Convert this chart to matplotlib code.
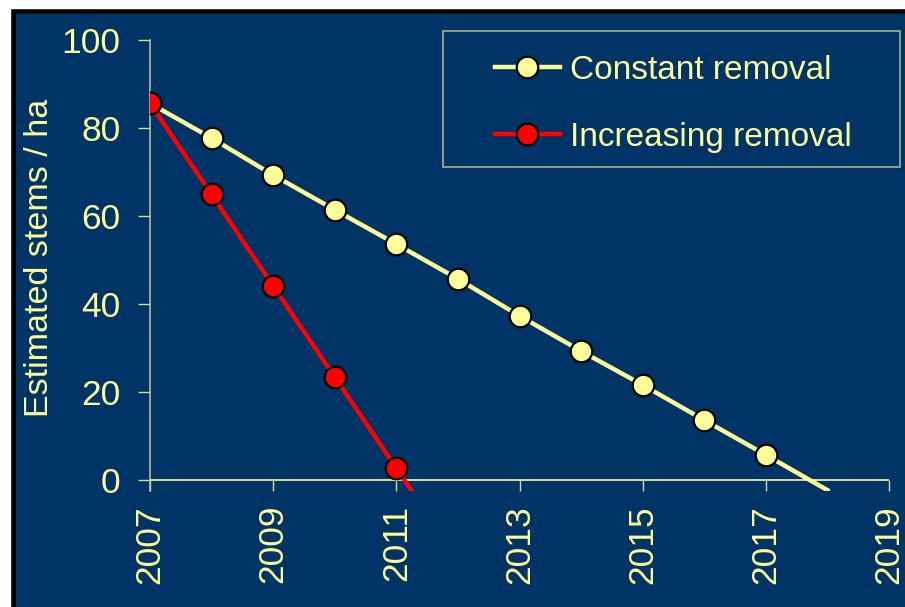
import matplotlib
matplotlib.use("Agg")
import matplotlib.pyplot as plt
from matplotlib.patches import Rectangle

plt.rcParams['font.family'] = ['Liberation Sans', 'DejaVu Sans']

# ---- data ----
years_constant = [2007, 2008, 2009, 2010, 2011, 2012, 2013, 2014, 2015, 2016, 2017, 2018]
constant_removal = [85.6, 77.7, 69.3, 61.4, 53.6, 45.7, 37.3, 29.3, 21.6, 13.6, 5.7, -2.3]
years_increasing = [2007, 2008, 2009, 2010, 2011, 2012]
increasing_removal = [85.6, 64.9, 44.1, 23.4, 2.7, -18.0]
x_ticks = [2007, 2009, 2011, 2013, 2015, 2017, 2019]
y_ticks = [0, 20, 40, 60, 80, 100]
series_labels = ["Constant removal", "Increasing removal"]
y_label = "Estimated stems / ha"

NAVY = '#003366'
TXT = '#FFFF99'
YEL = '#FFFF99'
RED = '#FF0000'

W, H = 905, 607
fig = plt.figure(figsize=(W / 100, H / 100), dpi=100)
fig.patch.set_facecolor('white')

# slide background with black frame
bg = Rectangle((12.5 / W, -0.1), 1.2, (H - 11) / H + 0.1, transform=fig.transFigure,
               facecolor=NAVY, edgecolor='black', linewidth=3.3, zorder=-10)
fig.patches.append(bg)

ax = fig.add_axes([150 / W, (H - 491) / H, (889 - 150) / W, (491 - 40) / H])
ax.set_facecolor('none')

ax.set_xlim(2007, 2019)
ax.set_ylim(-2.5, 100)

ax.axhline(0, color=YEL, lw=1.2, zorder=1)

mk_c = [i for i, v in enumerate(constant_removal) if v >= 0]
mk_i = [i for i, v in enumerate(increasing_removal) if v >= 0]
ax.plot(years_constant, constant_removal, color=YEL, lw=3.2, marker='o', markersize=15.5,
        markerfacecolor=YEL, markeredgecolor='black', markeredgewidth=1.6,
        markevery=mk_c, label=series_labels[0], zorder=3)
ax.plot(years_increasing, increasing_removal, color=RED, lw=3.2, marker='o', markersize=15.5,
        markerfacecolor=RED, markeredgecolor='black', markeredgewidth=1.6,
        markevery=mk_i, label=series_labels[1], zorder=4)

for s in ['top', 'right', 'bottom']:
    ax.spines[s].set_visible(False)
ax.spines['left'].set_color('#C8C8A0')
ax.spines['left'].set_linewidth(1.1)

ax.set_xticks(x_ticks)
ax.set_xticklabels([str(t) for t in x_ticks])
ax.set_yticks(y_ticks)
ax.set_yticklabels([str(t) for t in y_ticks])
ax.tick_params(axis='x', direction='in', length=7.9, width=1.0, color='#D8D8A0',
               pad=10, labelsize=25.5, labelcolor=TXT, labelrotation=90)
ax.tick_params(axis='y', direction='out', length=8.6, width=1.0, color='#D8D8A0',
               pad=12.5, labelsize=25.5, labelcolor=TXT)

ax.set_ylabel(y_label, fontsize=24.5, color=TXT)
ax.yaxis.set_label_coords(-0.150, 0.518)
ax.yaxis.label.set_va('center')

# legend frame
fig.patches.append(Rectangle((443 / W, (H - 167) / H), (900 - 443) / W, (167 - 31) / H,
                             transform=fig.transFigure, fill=False,
                             edgecolor='#B8B890', linewidth=1.1, zorder=5))
ax.legend(loc='center', bbox_to_anchor=(673 / W, (H - 104) / H),
          bbox_transform=fig.transFigure, frameon=False, fontsize=24,
          labelcolor=TXT, handlelength=1.95, handletextpad=0.3,
          labelspacing=1.08, numpoints=1)

fig.savefig('out.png', dpi=100, facecolor=fig.get_facecolor())
